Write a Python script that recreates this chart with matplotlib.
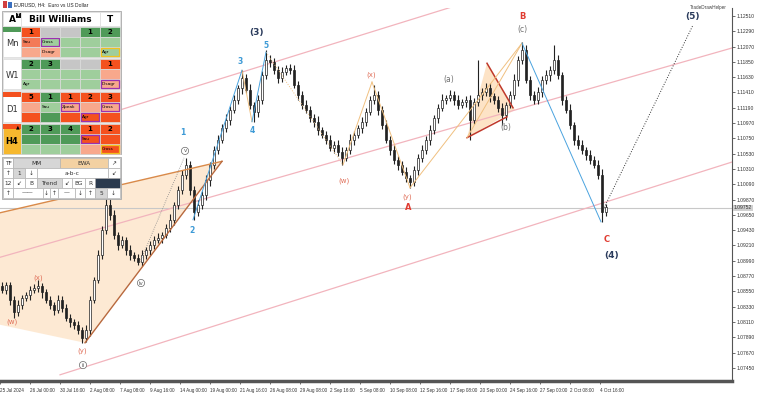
import numpy as np
import matplotlib
matplotlib.use('Agg')
import matplotlib.pyplot as plt
from matplotlib.patches import Rectangle, Polygon

plt.rcParams['font.family'] = ['DejaVu Sans']

# ---- EURUSD H4 closes (one per ~2 bars) ----
closes = [
    1.0857, 1.0864, 1.0843, 1.0825, 1.0835, 1.0845, 1.0850, 1.0857, 1.0860, 1.0863, 1.0854, 1.0843, 1.0835, 1.0828, 1.0843, 1.0831, 1.0817, 1.0811, 1.0807,
    1.0799, 1.0788, 1.0799, 1.0843, 1.0871, 1.0907, 1.0943, 1.0979, 1.0965, 1.0936, 1.0922, 1.0929, 1.0914, 1.0907, 1.0903, 1.0897, 1.0907, 1.0914, 1.0922,
    1.0929, 1.0932, 1.0936, 1.0946, 1.0958, 1.0979, 1.1001, 1.1022, 1.1037, 1.1001, 1.0969, 1.0979, 1.0994, 1.1015, 1.1037, 1.1058, 1.1073, 1.1090, 1.1101,
    1.1116, 1.1130, 1.1147, 1.1162, 1.1145, 1.1123, 1.1113, 1.1130, 1.1166, 1.1188, 1.1185, 1.1173, 1.1162, 1.1170, 1.1176, 1.1173, 1.1152, 1.1137, 1.1123,
    1.1116, 1.1104, 1.1099, 1.1087, 1.1080, 1.1073, 1.1061, 1.1066, 1.1055, 1.1047, 1.1058, 1.1073, 1.1080, 1.1090, 1.1099, 1.1113, 1.1130, 1.1137, 1.1116,
    1.1094, 1.1073, 1.1058, 1.1044, 1.1037, 1.1027, 1.1018, 1.1012, 1.1030, 1.1047, 1.1058, 1.1073, 1.1087, 1.1104, 1.1119, 1.1130, 1.1133, 1.1137, 1.1130,
    1.1123, 1.1127, 1.1130, 1.1101, 1.1127, 1.1137, 1.1142, 1.1147, 1.1136, 1.1130, 1.1119, 1.1109, 1.1123, 1.1137, 1.1159, 1.1188, 1.1202, 1.1159, 1.1137,
    1.1130, 1.1142, 1.1159, 1.1166, 1.1173, 1.1188, 1.1166, 1.1130, 1.1116, 1.1094, 1.1073, 1.1066, 1.1058, 1.1051, 1.1044, 1.1037, 1.1022, 1.0969, 1.0976,
]
# wick lengths in pips above / below the body
hi_wick = [
    6, 5, 4, 6, 7, 5, 4, 6, 5, 8, 4, 5, 6, 4, 7, 5, 6, 5, 4,
    6, 5, 7, 6, 4, 8, 6, 52, 9, 7, 5, 6, 4, 7, 5, 6, 8, 5, 6,
    5, 7, 4, 6, 8, 5, 6, 7, 10, 6, 5, 7, 6, 8, 4, 6, 7, 5, 9,
    6, 7, 5, 11, 6, 8, 5, 7, 6, 14, 7, 5, 6, 8, 4, 6, 7, 5, 6,
    7, 5, 6, 8, 4, 6, 7, 5, 6, 7, 5, 8, 6, 4, 7, 5, 6, 15, 6,
    5, 7, 6, 8, 5, 6, 7, 4, 6, 5, 8, 6, 7, 5, 6, 9, 5, 7, 6,
    8, 5, 6, 7, 6, 51, 5, 7, 8, 4, 6, 7, 5, 6, 8, 6, 11, 7, 5,
    6, 7, 5, 8, 6, 21, 7, 5, 6, 8, 5, 7, 6, 5, 8, 6, 7, 9, 5,
]
lo_wick = [
    5, 6, 7, 8, 5, 6, 4, 7, 5, 6, 8, 5, 6, 7, 4, 6, 5, 7, 6,
    5, 7, 6, 8, 5, 4, 6, 5, 7, 6, 8, 5, 6, 7, 5, 4, 6, 5, 7,
    6, 5, 8, 4, 6, 7, 5, 6, 5, 7, 11, 6, 5, 7, 8, 6, 5, 4, 6,
    7, 5, 6, 8, 5, 6, 14, 7, 5, 6, 8, 5, 7, 6, 4, 6, 5, 7, 6,
    5, 6, 8, 7, 5, 6, 4, 7, 6, 10, 5, 6, 8, 5, 7, 6, 5, 6, 7,
    6, 5, 7, 6, 8, 5, 6, 8, 5, 7, 6, 5, 8, 6, 7, 5, 6, 4, 7,
    6, 5, 7, 28, 6, 5, 7, 6, 8, 5, 6, 15, 7, 5, 6, 8, 6, 5, 7,
    6, 5, 7, 6, 8, 5, 6, 7, 5, 6, 8, 6, 5, 7, 6, 5, 6, 14, 6,
]

price_ticks = [1.12510, 1.12290, 1.12070, 1.11850, 1.11630, 1.11410, 1.11190, 1.10970,
               1.10750, 1.10530, 1.10310, 1.10090, 1.09870, 1.09650, 1.09430, 1.09210,
               1.08990, 1.08770, 1.08550, 1.08330, 1.08110, 1.07890, 1.07670, 1.07450]
date_labels = ['25 Jul 2024', '26 Jul 00:00', '30 Jul 16:00', '2 Aug 08:00', '7 Aug 08:00',
               '9 Aug 16:00', '14 Aug 00:00', '19 Aug 00:00', '21 Aug 16:00', '26 Aug 08:00',
               '29 Aug 08:00', '2 Sep 16:00', '5 Sep 08:00', '10 Sep 08:00', '12 Sep 16:00',
               '17 Sep 08:00', '20 Sep 00:00', '24 Sep 16:00', '27 Sep 00:00', '2 Oct 08:00',
               '4 Oct 16:00']
last_price = 1.09752

# drawn objects: (bar, price) anchors
pink_lines = [[(25, 1.1107), (122.5, 1.1281)],
              [(0, 1.0904), (183, 1.1205)],
              [(15, 1.0735), (183, 1.1041)]]
big_tri = [(0, 1.0968), (55.5, 1.1042), (21.25, 1.0781), (0, 1.0807)]
small_tri = [(116.75, 1.1076), (121.75, 1.1183), (128.75, 1.1116)]
orange_lines = [[(0, 1.0968), (55.5, 1.1042)]]
brown_lines = [[(21.25, 1.0781), (55.5, 1.1042)]]
red_lines = [[(121.75, 1.1183), (128.25, 1.1119)],
             [(116.75, 1.1076), (126.75, 1.1106)]]
tan_lines = [[(85.75, 1.1037), (93, 1.1156)], [(93, 1.1156), (102.5, 1.1004)],
             [(102.5, 1.1004), (130.5, 1.1212)], [(116.75, 1.1076), (130.5, 1.1212)],
             [(60.5, 1.1173), (63, 1.1099)]]
tan_dotted = [[(66.5, 1.1199), (85.75, 1.1037)]]
blue_lines = [[(48.25, 1.0958), (60.5, 1.1173)], [(63, 1.1099), (66.5, 1.1199)],
              [(130.5, 1.1212), (150.25, 1.0955)]]
gray_dotted = [[(35, 1.0897), (46, 1.1047)]]
projection = [(150.75, 1.0972), (173.25, 1.1238)]

# wave labels: text, bar, price, style
wave_labels = [
    ('1', 45.75, 1.1083, 'blue'), ('2', 48.0, 1.0942, 'blue'), ('3', 60.0, 1.1185, 'blue'),
    ('4', 63.0, 1.1087, 'blue'), ('5', 66.5, 1.1209, 'blue'),
    ('(3)', 64.0, 1.1227, 'major'), ('(4)', 153.0, 1.0907, 'major'), ('(5)', 173.25, 1.1250, 'major'),
    ('(w)', 3.0, 1.0811, 'minor'), ('(x)', 9.5, 1.0874, 'minor'), ('(y)', 20.5, 1.0769, 'minor'),
    ('(w)', 86.0, 1.1014, 'minor'), ('(x)', 92.75, 1.1166, 'minor'), ('(y)', 101.75, 1.0991, 'minor'),
    ('(a)', 112.25, 1.1160, 'gray'), ('(b)', 126.5, 1.1091, 'gray'), ('(c)', 130.5, 1.1231, 'gray'),
    ('A', 102.0, 1.0975, 'abc'), ('B', 130.5, 1.1250, 'abc'), ('C', 151.75, 1.0929, 'abc'),
    ('ii', 20.75, 1.0749, 'circ'), ('iv', 35.25, 1.0867, 'circ'), ('v', 46.25, 1.1057, 'circ'),
]
LABEL_STYLE = {
    'blue': dict(color='#3d9ad6', fontsize=5.5, fontweight='bold'),
    'major': dict(color='#2a3b5c', fontsize=6.5, fontweight='bold'),
    'minor': dict(color='#e0705a', fontsize=5),
    'gray': dict(color='#707070', fontsize=5.5),
    'abc': dict(color='#e03c31', fontsize=6, fontweight='bold'),
    'circ': dict(color='#555555', fontsize=4,
                 bbox=dict(boxstyle='circle,pad=0.2', fc='white', ec='#666666', lw=0.5)),
}

W, H = 758, 397
fig = plt.figure(figsize=(W / 100, H / 100), dpi=100)
fig.patch.set_facecolor('white')
ax = fig.add_axes([0, 16 / H, 732 / W, 373 / H])
ax.set_xlim(0, 183)
ax.set_ylim(1.07261, 1.12625)

# channels / patterns
for seg in pink_lines:
    (x0, y0), (x1, y1) = seg
    ax.plot([x0, x1], [y0, y1], color='#f2b4bd', lw=0.9, zorder=1)
ax.add_patch(Polygon(big_tri, closed=True, fc='#fde6cc', ec='none', alpha=0.85, zorder=0.5))
ax.add_patch(Polygon(small_tri, closed=True, fc='#fde0c0', ec='none', alpha=0.9, zorder=0.5))
ax.axhline(last_price, color='#c8c8c8', lw=0.8, zorder=0.8)

# candles
c = np.array(closes)
o = np.concatenate([[c[0] + 0.0005], c[:-1]])
hi = np.maximum(o, c) + np.array(hi_wick) * 1e-4
lo = np.minimum(o, c) - np.array(lo_wick) * 1e-4
x = np.arange(len(c)) + 0.5
ax.vlines(x, lo, hi, color='#222222', lw=0.8, zorder=2)
bull = c >= o
ax.bar(x[bull], (c - o)[bull], bottom=o[bull], width=0.7, color='white',
       edgecolor='#222222', lw=0.5, zorder=3)
ax.bar(x[~bull], (o - c)[~bull], bottom=c[~bull], width=0.7, color='#222222',
       edgecolor='#222222', lw=0.5, zorder=3)

def draw(segs, **kw):
    for (x0, y0), (x1, y1) in segs:
        ax.plot([x0, x1], [y0, y1], **kw)

draw(orange_lines, color='#d98a4a', lw=1.0, zorder=4)
draw(brown_lines, color='#b8693e', lw=1.0, zorder=4)
draw(red_lines, color='#c0392b', lw=1.1, zorder=4)
draw(tan_lines, color='#f0c080', lw=0.7, zorder=4)
draw(tan_dotted, color='#f0c080', lw=0.7, ls=':', zorder=4)
draw(blue_lines, color='#4aa3df', lw=0.7, zorder=4)
draw(gray_dotted, color='#888888', lw=0.6, ls=':', zorder=4)
draw([projection], color='#333333', lw=0.7, ls=':', zorder=4)

for txt, bx, py, st in wave_labels:
    ax.text(bx, py, txt, ha='center', va='center', zorder=6, **LABEL_STYLE[st])

# axes styling (MT4 look)
for s in ['top', 'left']:
    ax.spines[s].set_visible(False)
ax.spines['right'].set_color('#555555')
ax.spines['right'].set_linewidth(0.8)
ax.spines['bottom'].set_color('#555555')
ax.spines['bottom'].set_linewidth(2.5)
ax.yaxis.tick_right()
ax.set_yticks(price_ticks)
ax.set_yticklabels([f'{p:.5f}' for p in price_ticks], family='Liberation Sans')
ax.tick_params(axis='y', labelsize=3.6, length=2, width=0.5, pad=1, colors='#333333')
ax.set_xticks([7.5 * i for i in range(len(date_labels))])
ax.set_xticklabels(date_labels, ha='left', family='Liberation Sans')
ax.tick_params(axis='x', labelsize=3.3, length=2, width=0.5, pad=3, colors='#333333')
for lbl in ax.get_xticklabels():
    lbl.set_x(lbl.get_position()[0])
ax.text(183.5, last_price, f'{last_price:.5f}', fontsize=3.6, color='#333333', va='center',
        ha='left', family='Liberation Sans',
        bbox=dict(boxstyle='square,pad=0.15', fc='#d0d0d0', ec='none'), clip_on=False)

# ---- overlay in pixel units: title and Bill Williams panel ----
ov = fig.add_axes([0, 0, 1, 1], zorder=10)
ov.set_xlim(0, W)
ov.set_ylim(H, 0)
ov.axis('off')
ov.patch.set_alpha(0)

ov.text(14, 5, 'EURUSD, H4:  Euro vs US Dollar', fontsize=3.6, va='center', color='#222222',
        family='Liberation Sans')
ov.add_patch(Rectangle((3, 1), 4, 7, fc='#d04040', ec='none'))
ov.add_patch(Rectangle((8, 2), 4, 6, fc='#3a70c0', ec='none'))
ov.text(727, 8, 'TradeDrawHelper', fontsize=3.3, ha='right', va='center', color='#444444',
        family='Liberation Sans')

RED, MRED, SAL = '#f4511e', '#f37a58', '#f8a88c'
DG, LG, GR = '#4f9a58', '#9fce9c', '#c6c6c6'
PUR, YEL = '#9b30b0', '#f0c020'

def cell(x0, y0, x1, y1, fc, text='', fs=3.4, bold=False, ec='#dcdcdc', lw=0.5, tc='black'):
    ov.add_patch(Rectangle((x0, y0), x1 - x0, y1 - y0, fc=fc, ec=ec, lw=lw))
    if text:
        ov.text((x0 + x1) / 2, (y0 + y1) / 2 + 0.3, text, fontsize=fs, ha='center', va='center',
                fontweight='bold' if bold else 'normal', color=tc)

def tag(x0, y0, x1, y1, text, ec):
    ov.add_patch(Rectangle((x0 + 1, y0 + 1.2), x1 - x0 - 2.5, y1 - y0 - 2.4, fc='none', ec=ec, lw=0.9))
    ov.text(x0 + 2, (y0 + y1) / 2 + 0.3, text, fontsize=3.1, ha='left', va='center')

ov.add_patch(Rectangle((2, 11), 119, 143, fc='#e6e6e6', ec='#a8a8a8', lw=0.6))
cell(3, 12, 21, 26, 'white', 'A', fs=6.5, bold=True)
ov.add_patch(Rectangle((15.5, 12.5), 5, 5, fc='#111111', ec='none'))
ov.text(18, 15.2, 'T', fontsize=3, color='white', ha='center', va='center', fontweight='bold')
cell(21, 12, 100, 26, 'white', 'Bill Williams', fs=6.5, bold=True)
cell(100, 12, 120, 26, 'white', 'T', fs=6.5, bold=True)

col_x = [21, 40, 60, 80, 100, 120]
blocks = ['Mn', 'W1', 'D1', 'H4']
block_top = [27, 59, 92, 124]
grid = {
    'Mn': [[(RED, '1'), (GR, ''), (GR, ''), (DG, '1'), (DG, '2')],
           [(MRED, 'Sau'), (LG, 'Cross', PUR), (LG, ''), (LG, ''), (LG, '')],
           [(SAL, ''), (SAL, 'Disagr'), (LG, ''), (LG, ''), (LG, 'Agr', YEL)]],
    'W1': [[(DG, '2'), (DG, '3'), (GR, ''), (GR, ''), (RED, '1')],
           [(LG, ''), (LG, ''), (LG, ''), (LG, ''), (SAL, '')],
           [(LG, 'Agr'), (LG, ''), (LG, ''), (LG, ''), (SAL, 'Disagr', PUR)]],
    'D1': [[(RED, '5'), (DG, '1'), (RED, '1'), (RED, '2'), (RED, '3')],
           [(SAL, ''), (LG, 'Sau'), (SAL, 'Zpeak', PUR), (SAL, ''), (SAL, 'Cross', PUR)],
           [(RED, ''), (DG, ''), (RED, ''), (RED, 'Agr', PUR), (RED, '')]],
    'H4': [[(DG, '2'), (DG, '3'), (DG, '4'), (RED, '1'), (RED, '2')],
           [(DG, ''), (DG, ''), (DG, ''), (RED, 'Sau', PUR), (RED, '')],
           [(LG, ''), (LG, ''), (LG, ''), (SAL, ''), (RED, 'Cross', YEL)]],
}
label_strip = {'Mn': DG, 'W1': None, 'D1': RED, 'H4': RED}

for name, top in zip(blocks, block_top):
    bot = top + 30
    if name == 'H4':
        cell(3, top, 21, bot, '#f6b82e')
        ov.text(12, top + 18, name, fontsize=6, fontweight='bold', ha='center', va='center')
    else:
        cell(3, top, 21, bot, 'white')
        ov.text(12, top + 17, name, fontsize=6, ha='center', va='center', color='#333333')
    if label_strip[name]:
        ov.add_patch(Rectangle((3, top), 18, 5, fc=label_strip[name], ec='none'))
    if name == 'H4':
        ov.text(18, top + 2.8, '\u25b2', fontsize=3.5, ha='center', va='center')
    for r, row in enumerate(grid[name]):
        y0 = top + 10 * r
        for k, spec in enumerate(row):
            fc, txt = spec[0], spec[1]
            x0, x1 = col_x[k], col_x[k + 1]
            if r == 0:
                cell(x0, y0, x1, y0 + 10, fc, txt, fs=5, bold=True)
            elif len(spec) > 2:
                cell(x0, y0, x1, y0 + 10, fc)
                tag(x0, y0, x1, y0 + 10, txt, spec[2])
            else:
                cell(x0, y0, x1, y0 + 10, fc)
                if txt:
                    ov.text(x0 + 2, y0 + 5.3, txt, fontsize=3.1, ha='left', va='center')

# control panel
PG, PE, NAVY = '#d6d6d6', '#f3d1a2', '#2b3a4e'
panel = [
    (158, 168, [(3, 13, 'white', 'TF'), (13, 60, PG, 'MM'), (60, 108, PE, 'EWA'), (108, 120, 'white', '\u2197')]),
    (168, 178, [(3, 13, 'white', '\u2191'), (13, 25, PG, '1'), (25, 37, 'white', '\u2193'),
                (37, 108, 'white', 'a-b-c'), (108, 120, 'white', '\u2199')]),
    (178, 188, [(3, 13, 'white', '12'), (13, 25, 'white', '\u2199'), (25, 37, 'white', 'B'),
                (37, 62, PG, 'Trend'), (62, 72, 'white', '\u2199'), (72, 85, 'white', 'BG'),
                (85, 95, 'white', 'R'), (95, 120, NAVY, '')]),
    (188, 198, [(3, 13, 'white', '\u2191'), (13, 43, 'white', '\u2014\u2014'), (43, 50, 'white', '\u2193'),
                (50, 58, 'white', '\u2191'), (58, 75, 'white', '\u2014'), (75, 85, 'white', '\u2193'),
                (85, 95, 'white', '\u2191'), (95, 107, PG, '5'), (107, 120, 'white', '\u2193')]),
]
ov.add_patch(Rectangle((2, 157), 119, 42, fc='#e6e6e6', ec='#a8a8a8', lw=0.6))
for y0, y1, cells in panel:
    for x0, x1, fc, txt in cells:
        cell(x0, y0, x1, y1, fc, txt, fs=4.2, ec='#b4b4b4', tc='#333333')

fig.savefig('out.png', dpi=100)
